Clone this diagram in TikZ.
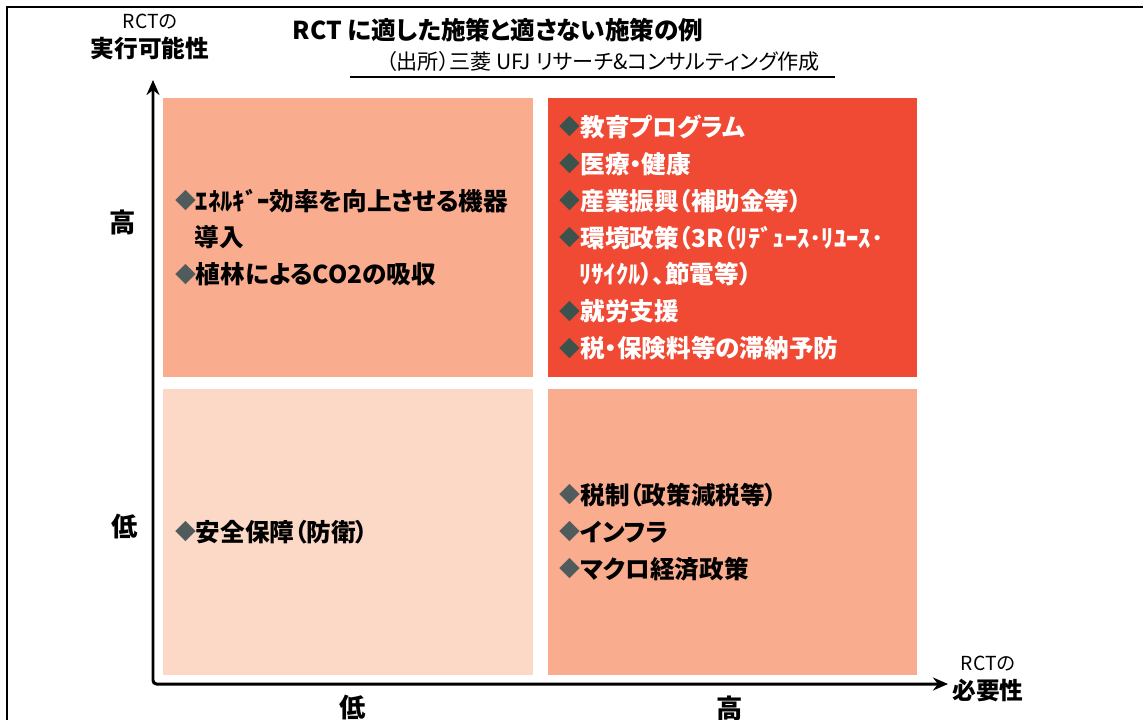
\documentclass[tikz,border=0pt]{standalone}
\usepackage{fontspec}
\setmainfont{Noto Sans CJK JP}[RawFeature=+palt]
\usepackage{tikz}
\usetikzlibrary{arrows.meta, positioning}
\usepackage{xcolor}

\definecolor{salmon}{RGB}{249,172,142}
\definecolor{pale}{RGB}{252,216,199}
\definecolor{hot}{RGB}{240,73,52}
\definecolor{dia}{RGB}{80,92,92}
\definecolor{diadark}{RGB}{60,82,76}

\newcommand{\itm}[1][dia]{{\color{#1}\raisebox{0.06em}{\scalebox{0.85}{◆}}}}
\newcommand{\cont}{\hspace*{0.8em}}

\begin{document}
\begin{tikzpicture}[x=0.02cm,y=-0.02cm,>={Stealth[length=0.3cm,width=0.26cm]}]
  \tikzstyle{quad}=[inner xsep=0.24cm,inner ysep=0pt,text width=6.92cm,
    minimum width=7.4cm,align=left,font=\fontsize{14}{21}\selectfont\bfseries]
  \tikzstyle{grade}=[font=\fontsize{15}{18}\selectfont\bfseries]
  \tikzstyle{axislabel}=[align=center,font=\fontsize{13.5}{17}\selectfont\bfseries]

  \useasboundingbox (0,0) rectangle (1143,720);
  \draw[line width=0.05cm] (7,720) -- (7,7) -- (1143,7);

  % title
  \node[font=\fontsize{14}{17}\selectfont\bfseries] (title) at (498,30)
    {RCT に適した施策と適さない施策の例};
  \node[font=\fontsize{12}{14}\selectfont] (source) at (603,61)
    {（出所）三菱 UFJ リサーチ\&コンサルティング作成};
  \coordinate (ul_a) at (350,77);
  \coordinate (ul_b) at (835,77);
  \draw[line width=0.6pt] (ul_a) -- (ul_b);

  % quadrants
  \node[quad,fill=salmon,minimum height=5.58cm] (q_hl) at (348,237.5)
    {\itm ｴﾈﾙｷﾞｰ効率を向上させる機器\\
     \cont 導入\\
     \itm 植林によるCO2の吸収};
  \node[quad,fill=hot,text=white,minimum height=5.58cm] (q_hh) at (732.5,237.5)
    {\itm[diadark]教育プログラム\\
     \itm[diadark]医療・健康\\
     \itm[diadark]産業振興（補助金等）\\
     \itm[diadark]環境政策（3R（ﾘﾃﾞｭｰｽ･ﾘﾕｰｽ･\\
     \cont ﾘｻｲｸﾙ）、節電等）\\
     \itm[diadark]就労支援\\
     \itm[diadark]税・保険料等の滞納予防};
  \node[quad,fill=pale,minimum height=5.72cm] (q_ll) at (348,532)
    {\itm 安全保障（防衛）};
  \node[quad,fill=salmon,minimum height=5.72cm] (q_lh) at (732.5,532)
    {\itm 税制（政策減税等）\\
     \itm インフラ\\
     \itm マクロ経済政策};

  % axes
  \coordinate (O) at (153,684);
  \coordinate (y_tip) at (153,80);
  \coordinate (x_tip) at (948,684);
  \draw[<->,line width=1.7pt,rounded corners=2pt] (y_tip) -- (O) -- (x_tip);

  \node[axislabel] (y_name) at (150,37)
    {{\fontsize{11}{13}\selectfont\mdseries RCTの}\\実行可能性};
  \node[axislabel] (x_name) at (988,679)
    {{\fontsize{11}{13}\selectfont\mdseries RCTの}\\必要性};

  \node[grade] (y_high) at (123,222) {高};
  \node[grade] (y_low)  at (125,527) {低};
  \node[grade] (x_low)  at (353,708) {低};
  \node[grade] (x_high) at (730,708) {高};
\end{tikzpicture}
\end{document}
